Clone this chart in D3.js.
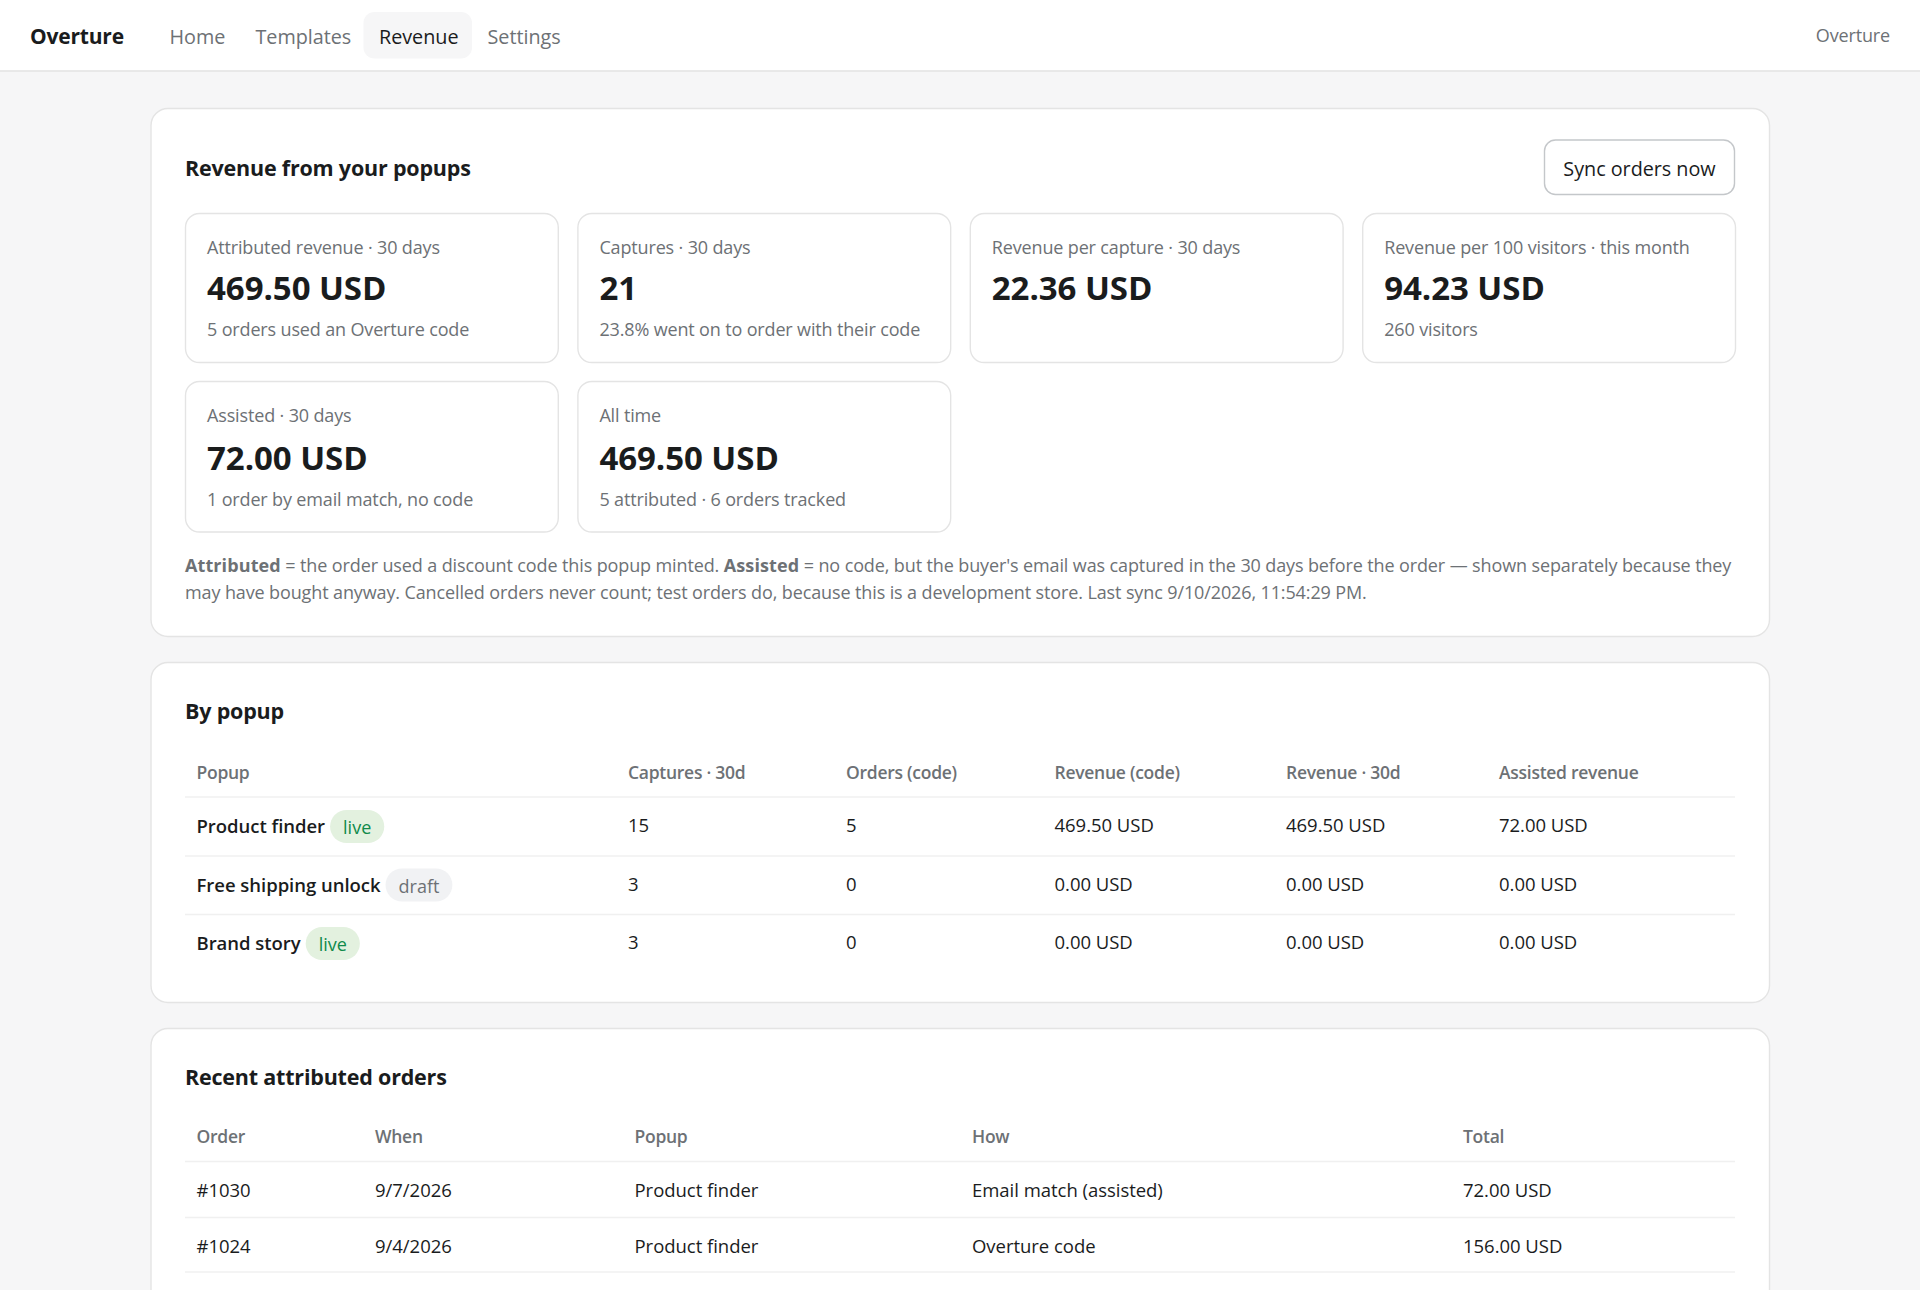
<!DOCTYPE html>
<html>
<head>
<meta charset="utf-8">
<script src="https://cdn.jsdelivr.net/npm/d3@7"></script>
<style>
html, body { margin: 0; padding: 0; background: #f6f6f7; overflow: hidden; }
svg { display: block; }
text { font-family: "Open Sans", "Noto Sans", sans-serif; dominant-baseline: alphabetic; }
.muted { fill: #6d7175; }
.dark { fill: #1a1c1d; }
.strong { font-weight: 700; letter-spacing: 0.1px; }
.name { font-weight: 600; letter-spacing: -0.15px; }
.nav { font-size: 19.8px; letter-spacing: -0.03px; }
.brand { font-size: 21px; font-weight: 700; letter-spacing: -0.2px; }
.title { font-size: 21.5px; font-weight: 700; letter-spacing: -0.2px; }
.small { font-size: 18px; letter-spacing: -0.15px; }
.note { font-size: 18px; letter-spacing: -0.12px; }
.value { font-size: 33px; font-weight: 700; letter-spacing: -0.05px; }
.head { font-size: 17.5px; font-weight: 600; letter-spacing: -0.27px; }
.cell { font-size: 18.5px; letter-spacing: -0.03px; }
.pill { font-size: 18px; font-weight: 500; }
</style>
</head>
<body>
<svg id="page" width="1920" height="1290"></svg>
<script>
const navItems = ["Home", "Templates", "Revenue", "Settings"];
const activeNav = "Revenue";

const kpiLabels = ["Attributed revenue · 30 days", "Captures · 30 days", "Revenue per capture · 30 days", "Revenue per 100 visitors · this month", "Assisted · 30 days", "All time"];
const kpiValues = ["469.50 USD", "21", "22.36 USD", "94.23 USD", "72.00 USD", "469.50 USD"];
const kpiNotes = ["5 orders used an Overture code", "23.8% went on to order with their code", "", "260 visitors", "1 order by email match, no code", "5 attributed · 6 orders tracked"];

const popupHeaders = ["Popup", "Captures · 30d", "Orders (code)", "Revenue (code)", "Revenue · 30d", "Assisted revenue"];
const popupNames = ["Product finder", "Free shipping unlock", "Brand story"];
const popupStatus = ["live", "draft", "live"];
const popupCaptures = [15, 3, 3];
const popupOrders = [5, 0, 0];
const popupRevenueCode = ["469.50 USD", "0.00 USD", "0.00 USD"];
const popupRevenue30d = ["469.50 USD", "0.00 USD", "0.00 USD"];
const popupAssisted = ["72.00 USD", "0.00 USD", "0.00 USD"];

const orderHeaders = ["Order", "When", "Popup", "How", "Total"];
const orderIds = ["#1030", "#1024"];
const orderDates = ["9/7/2026", "9/4/2026"];
const orderPopups = ["Product finder", "Product finder"];
const orderHow = ["Email match (assisted)", "Overture code"];
const orderTotals = ["72.00 USD", "156.00 USD"];

const svg = d3.select("#page");

function put(parent, str, x, y, cls) {
	return parent.append("text").attr("x", x).attr("y", y).attr("class", cls).text(str);
}

function box(parent, x, y, w, h, r, fill, stroke, sw) {
	return parent.append("rect").attr("x", x).attr("y", y).attr("width", w).attr("height", h)
		.attr("rx", r).attr("ry", r).attr("fill", fill).attr("stroke", stroke || "none").attr("stroke-width", sw || 0);
}

/* top bar */
svg.append("rect").attr("width", 1920).attr("height", 70.5).attr("fill", "#fff");
svg.append("line").attr("x1", 0).attr("x2", 1920).attr("y1", 71).attr("y2", 71).attr("stroke", "#e3e3e3").attr("stroke-width", 1.4);
put(svg, "Overture", 30, 44, "brand dark");

const navX = d3.scaleOrdinal().domain(navItems).range([169.5, 255.5, 379, 487.5]);
box(svg, 363.5, 12, 108.5, 46.5, 11, "#f6f6f7");
navItems.forEach(d => {
	put(svg, d, navX(d), 43.5, "nav " + (d === activeNav ? "dark" : "muted"));
});
put(svg, "Overture", 1890, 41.5, "small muted").attr("text-anchor", "end");

/* panels */
function panel(y, h, title, titleY) {
	box(svg, 151, y, 1618.5, h, 17, "#fff", "#e4e4e4", 1.4);
	put(svg, title, 185, titleY, "title dark");
}

panel(108.5, 528, "Revenue from your popups", 175.5);
panel(662.5, 340, "By popup", 719);
panel(1028.5, 400, "Recent attributed orders", 1084.5);

box(svg, 1544.5, 140, 190, 54.5, 11, "#fff", "#c4c7ca", 1.4);
put(svg, "Sync orders now", 1639.5, 175.5, "nav dark").attr("text-anchor", "middle");

/* kpi cards, four to a row */
const kpiCol = d3.scaleBand().domain([0, 1, 2, 3]).range([185.5, 1735.5]).paddingInner(0.05);
const kpiTop = [213.5, 381.5];
const kpiHeight = [149, 150.5];
const kpiText = [[253.5, 299.5, 336], [421.5, 469.5, 505.5]];

kpiLabels.forEach((d, i) => {
	const row = Math.floor(i / 4);
	const x = kpiCol(i % 4);
	box(svg, x, kpiTop[row], kpiCol.bandwidth(), kpiHeight[row], 14, "#fff", "#e4e4e4", 1.4);
	put(svg, d, x + 21.5, kpiText[row][0], "small muted");
	put(svg, kpiValues[i], x + 21.5, kpiText[row][1], "value dark");
	if (kpiNotes[i]) put(svg, kpiNotes[i], x + 21.5, kpiText[row][2], "small muted");
});

/* explanatory note */
const note1 = put(svg, "", 185, 572, "note muted");
note1.append("tspan").attr("class", "strong").text("Attributed");
note1.append("tspan").text(" = the order used a discount code this popup minted. ");
note1.append("tspan").attr("class", "strong").text("Assisted");
note1.append("tspan").text(" = no code, but the buyer's email was captured in the 30 days before the order — shown separately because they");
put(svg, "may have bought anyway. Cancelled orders never count; test orders do, because this is a development store. Last sync 9/10/2026, 11:54:29 PM.", 185, 598.5, "note muted");

/* tables */
function tableRules(ys) {
	ys.forEach(y => svg.append("line").attr("x1", 185).attr("x2", 1735).attr("y1", y).attr("y2", y).attr("stroke", "#f0f0f0").attr("stroke-width", 1.4));
}

/* by popup */
const popupCol = d3.scaleOrdinal().domain(popupHeaders).range([196.5, 628, 846, 1054.5, 1286, 1499]);
const popupRow = d3.scalePoint().domain(popupNames).range([833, 950]);
popupHeaders.forEach(d => put(svg, d, popupCol(d), 779, "head muted"));
tableRules([797, 856, 914.5]);

const popupColumns = [popupCaptures, popupOrders, popupRevenueCode, popupRevenue30d, popupAssisted];
popupNames.forEach((name, i) => {
	const y = popupRow(name);
	const nameText = put(svg, name, popupCol(popupHeaders[0]), y, "cell dark name");
	const pillX = popupCol(popupHeaders[0]) + nameText.node().getComputedTextLength() + 5;
	const live = popupStatus[i] === "live";
	const pillText = put(svg, popupStatus[i], pillX + 13, y + 1, "pill").attr("fill", live ? "#108a4b" : "#6d7175");
	const pillW = pillText.node().getComputedTextLength() + 26;
	box(svg, pillX, y - 23, pillW, 33, 16.5, live ? "#e3f1df" : "#f1f2f4");
	pillText.raise();
	popupColumns.forEach((col, c) => put(svg, col[i], popupCol(popupHeaders[c + 1]), y - 1, "cell dark"));
});

/* recent orders */
const orderCol = d3.scaleOrdinal().domain(orderHeaders).range([196.5, 375, 634.5, 972, 1463]);
const orderRow = d3.scalePoint().domain(orderIds).range([1197, 1253]);
orderHeaders.forEach(d => put(svg, d, orderCol(d), 1143, "head muted"));
tableRules([1161.5, 1217.5, 1272]);

const orderColumns = [orderIds, orderDates, orderPopups, orderHow, orderTotals];
orderIds.forEach((id, i) => {
	orderColumns.forEach((col, c) => put(svg, col[i], orderCol(orderHeaders[c]), orderRow(id), "cell dark"));
});
</script>
</body>
</html>
